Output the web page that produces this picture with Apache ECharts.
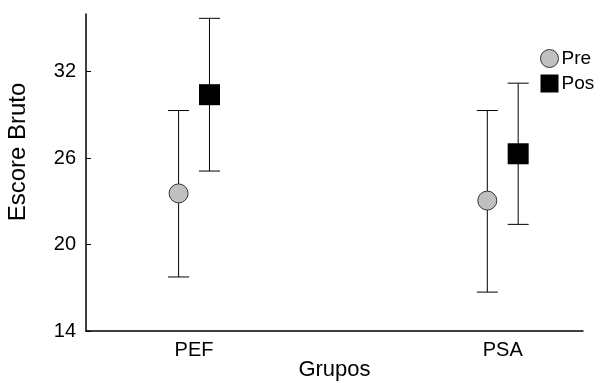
<!DOCTYPE html>
<html>
<head>
<meta charset="utf-8">
<script src="https://cdn.jsdelivr.net/npm/echarts@6/dist/echarts.min.js"></script>
<style>
  html, body { margin: 0; padding: 0; background: #fff; }
  #main { width: 601px; height: 383px; }
</style>
</head>
<body>
<div id="main"></div>
<script>
// grupos e valores
var groups = ['PEF', 'PSA'];
var preMean = [23.55, 23.05];
var preLow = [17.75, 16.7];
var preHigh = [29.3, 29.3];
var posMean = [30.4, 26.3];
var posLow = [25.1, 21.4];
var posHigh = [35.7, 31.2];
var yTicks = [14, 20, 26, 32];

var offset = 0.05; // deslocamento Pre/Pos dentro do grupo
var font = 'Liberation Sans, Arial, sans-serif';

function $each(arr, fn) { for (var i = 0; i < arr.length; i++) fn(i, arr[i]); }

var pts = function (mean, dx) {
	var out = [];
	$each(mean, function (i, v) { out.push([i + 1 + dx, v]); });
	return out;
};
var bars = function (low, high, dx) {
	var out = [];
	$each(low, function (i, v) { out.push([i + 1 + dx, v, high[i]]); });
	return out;
};

// barra de erro com tampas
var renderBar = function (params, api) {
	var x = api.value(0);
	var lo = api.coord([x, api.value(1)]);
	var hi = api.coord([x, api.value(2)]);
	var half = 10.5;
	var st = { stroke: '#000', lineWidth: 1 };
	return {
		type: 'group',
		children: [
			{ type: 'line', shape: { x1: lo[0], y1: lo[1], x2: hi[0], y2: hi[1] }, style: st },
			{ type: 'line', shape: { x1: lo[0] - half, y1: lo[1], x2: lo[0] + half, y2: lo[1] }, style: st },
			{ type: 'line', shape: { x1: hi[0] - half, y1: hi[1], x2: hi[0] + half, y2: hi[1] }, style: st }
		]
	};
};

var chart = echarts.init(document.getElementById('main'));
chart.setOption({
	animation: false,
	textStyle: { fontFamily: font },
	grid: { left: 86, top: 14, right: 18, bottom: 52, outerBoundsMode: 'none', containLabel: false },
	legend: {
		orient: 'vertical',
		left: 535,
		top: 44,
		itemWidth: 18,
		itemHeight: 18,
		itemGap: 6,
		textStyle: { fontSize: 19, color: '#000', fontFamily: font, padding: [0, 0, 0, -2] },
		data: [
			{ name: 'Pre', icon: 'circle', itemStyle: { color: '#c0c0c0', borderColor: '#333', borderWidth: 1 } },
			{ name: 'Pos', icon: 'rect', itemStyle: { color: '#000' } }
		]
	},
	xAxis: {
		type: 'value',
		min: 0.65,
		max: 2.26,
		name: 'Grupos',
		nameLocation: 'middle',
		nameGap: 28,
		nameMoveOverlap: false,
		nameTextStyle: { fontSize: 22, color: '#000', fontFamily: font },
		axisLine: { lineStyle: { color: '#000', width: 1.5 } },
		axisTick: { show: false },
		splitLine: { show: false },
		axisLabel: {
			customValues: [1, 2],
			formatter: function (v) { return groups[Math.round(v) - 1]; },
			fontSize: 20,
			color: '#000',
			margin: 9
		}
	},
	yAxis: {
		type: 'value',
		min: 14,
		max: 36,
		axisLine: { show: true, lineStyle: { color: '#000', width: 1.5 } },
		axisTick: { show: true, inside: true, length: 5, customValues: yTicks, lineStyle: { color: '#000' } },
		splitLine: { show: false },
		axisLabel: { customValues: yTicks, fontSize: 20, color: '#000', margin: 10 }
	},
	graphic: [{
		type: 'text',
		x: 18,
		y: 152,
		rotation: Math.PI / 2,
		style: {
			text: 'Escore Bruto',
			fontSize: 24,
			fontFamily: font,
			fill: '#000',
			align: 'center',
			verticalAlign: 'middle'
		}
	}],
	series: [
		{ type: 'custom', name: 'errPre', renderItem: renderBar, data: bars(preLow, preHigh, -offset), silent: true, z: 1 },
		{ type: 'custom', name: 'errPos', renderItem: renderBar, data: bars(posLow, posHigh, offset), silent: true, z: 1 },
		{
			type: 'scatter', name: 'Pre', symbol: 'circle', symbolSize: 19, z: 3,
			itemStyle: { color: '#c0c0c0', borderColor: '#333', borderWidth: 1, opacity: 1 },
			data: pts(preMean, -offset)
		},
		{
			type: 'scatter', name: 'Pos', symbol: 'rect', symbolSize: 21, z: 3,
			itemStyle: { color: '#000', opacity: 1 },
			data: pts(posMean, offset)
		}
	]
});
</script>
</body>
</html>
